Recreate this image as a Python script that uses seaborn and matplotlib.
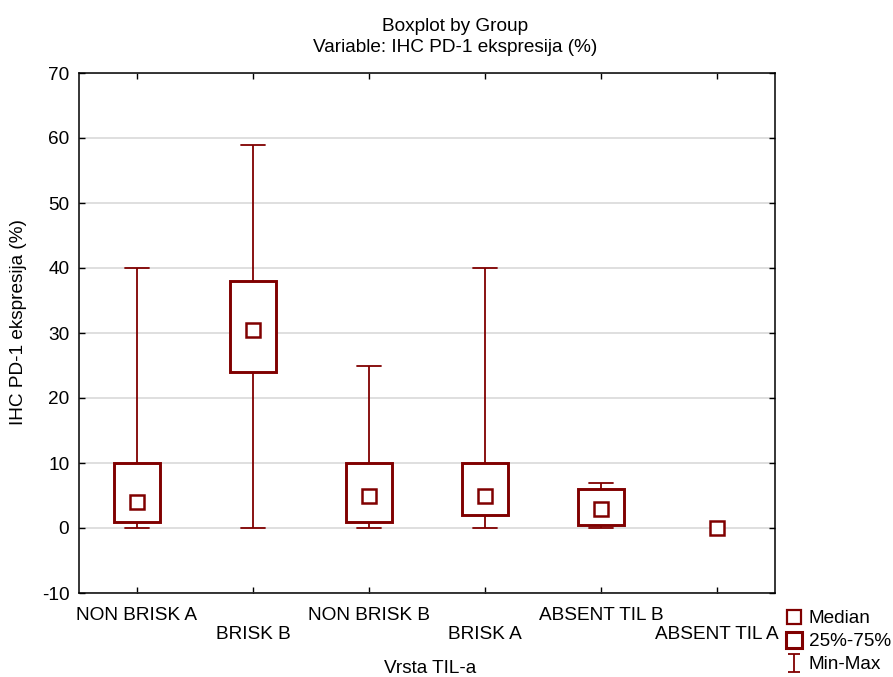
import numpy as np
import pandas as pd
import matplotlib
matplotlib.use("Agg")
import matplotlib.pyplot as plt
import seaborn as sns
from matplotlib.path import Path
from matplotlib.lines import Line2D

# Five-number summaries per TIL type (IHC PD-1 expression, %)
categories = ["NON BRISK A", "BRISK B", "NON BRISK B", "BRISK A", "ABSENT TIL B", "ABSENT TIL A"]
minimum = [0, 0, 0, 0, 0, 0]
q1 = [1, 24, 1, 2, 0.5, 0]
median = [4, 30.5, 5, 5, 3, 0]
q3 = [10, 38, 10, 10, 6, 0]
maximum = [40, 59, 25, 40, 7, 0]

RED = "#800000"
FS = 13.7

sns.set_style("ticks")
plt.rcParams["font.family"] = ["Liberation Sans", "DejaVu Sans"]
plt.rcParams["font.size"] = FS
plt.rcParams["axes.unicode_minus"] = False
plt.rcParams["text.color"] = "black"
plt.rcParams["axes.labelcolor"] = "black"
plt.rcParams["xtick.color"] = "black"
plt.rcParams["ytick.color"] = "black"

# Long-form table: each group's summary values; boxplot recomputes the same
# quartiles from them, and whiskers span min-max.
rows = []
for g, lo, a, m, b, hi in zip(categories, minimum, q1, median, q3, maximum):
    if hi > lo:
        rows += [(g, v) for v in (lo, a, m, b, hi)]
df = pd.DataFrame(rows, columns=["Vrsta TIL-a", "IHC PD-1 ekspresija (%)"])

fig = plt.figure(figsize=(8.93, 6.77), dpi=100)
W, H = 893, 677
ax = fig.add_axes([79 / W, 1 - 593 / H, (775 - 79) / W, (593 - 73) / H])

sns.boxplot(
    data=df, x="Vrsta TIL-a", y="IHC PD-1 ekspresija (%)", order=categories,
    whis=(0, 100), width=0.4, fill=True, color="white", linecolor=RED,
    linewidth=1.3, showfliers=False, ax=ax,
    boxprops={"facecolor": "white", "edgecolor": RED, "linewidth": 2.1},
    whiskerprops={"color": RED, "linewidth": 1.3},
    capprops={"color": RED, "linewidth": 1.3},
    medianprops={"color": RED, "linewidth": 0},
)

n_before = len(ax.lines)
sns.pointplot(
    x=categories, y=median, order=categories, linestyle="none", marker="s",
    color=RED, markersize=10, markeredgewidth=1.8, errorbar=None, ax=ax,
)
for ln in ax.lines[n_before:]:
    ln.set_markerfacecolor("white")
    ln.set_zorder(5)

ax.set_xlim(-0.5, len(categories) - 0.5)
ax.set_ylim(-10, 70)
ax.set_yticks(range(-10, 71, 10))
ax.set_xticks(range(len(categories)))
ax.set_xticklabels([c if i % 2 == 0 else "\n" + c for i, c in enumerate(categories)])
ax.set_xlabel("")
ax.set_ylabel("")

ax.yaxis.grid(True, color="#d9d9d9", linewidth=1.2)
ax.set_axisbelow(True)
for s in ax.spines.values():
    s.set_visible(True)
    s.set_color("black")
    s.set_linewidth(1.1)
ax.tick_params(axis="both", direction="in", length=4, width=1, top=True, right=True,
               labelsize=FS, colors="black")
ax.tick_params(axis="y", pad=7)
ax.tick_params(axis="x", pad=10)

fig.text(455 / W, 1 - 31 / H, "Boxplot by Group", ha="center", va="baseline", fontsize=FS)
fig.text(455 / W, 1 - 52 / H, "Variable: IHC PD-1 ekspresija (%)", ha="center", va="baseline", fontsize=FS)
fig.text(430 / W, 1 - 673 / H, "Vrsta TIL-a", ha="center", va="baseline", fontsize=FS)
fig.text(19 / W, 1 - 322 / H, "IHC PD-1 ekspresija (%)", rotation=90, ha="center", va="center", fontsize=FS)

# Legend with an I-shaped marker for the min-max whiskers
ibeam = Path([(-0.7, -1), (0.7, -1), (0, -1), (0, 1), (-0.7, 1), (0.7, 1)],
             [Path.MOVETO, Path.LINETO, Path.MOVETO, Path.LINETO, Path.MOVETO, Path.LINETO])
handles = [
    Line2D([], [], linestyle="none", marker="s", markersize=10, markerfacecolor="white",
           markeredgecolor=RED, markeredgewidth=1.6),
    Line2D([], [], linestyle="none", marker="s", markersize=11, markerfacecolor="white",
           markeredgecolor=RED, markeredgewidth=2.2),
    Line2D([], [], linestyle="none", marker=ibeam, markersize=13, markerfacecolor="none",
           markeredgecolor=RED, markeredgewidth=1.3),
]
fig.legend(handles, ["Median", "25%-75%", "Min-Max"], loc="upper left",
           bbox_to_anchor=(785 / W, 1 - 610 / H), frameon=False, fontsize=FS,
           handlelength=0.9, handletextpad=0.35, labelspacing=0.3, borderpad=0,
           borderaxespad=0)

fig.savefig("out.png", dpi=100)
